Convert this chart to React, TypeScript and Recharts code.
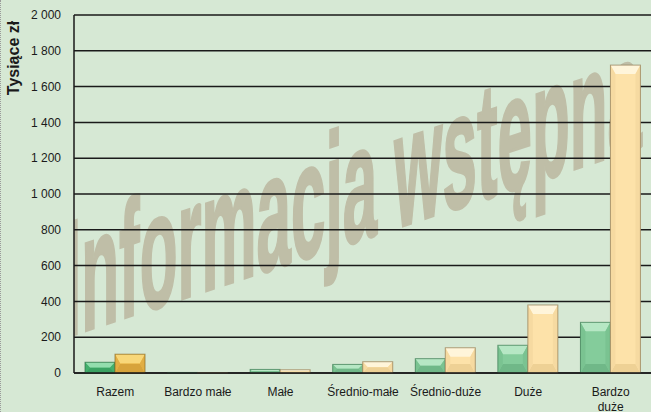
import { BarChart, Bar, XAxis, YAxis, CartesianGrid, Label } from "recharts";

const categories = ["Razem", "Bardzo małe", "Małe", "Średnio-małe", "Średnio-duże", "Duże", "Bardzo\nduże"];
const seriesA = [60, 3, 20, 48, 80, 155, 283];
const seriesB = [105, 2, 18, 63, 141, 380, 1720];
const yTicks = [0, 200, 400, 600, 800, 1000, 1200, 1400, 1600, 1800, 2000];

const data = categories.map((name, i) => ({ name, a: seriesA[i], b: seriesB[i] }));

type Pal = { mid: string; top: string; bottom: string; side: string; edge: string };
const greenPal: Pal = { mid: "#84cc9b", top: "#b6e7c4", bottom: "#70b888", side: "#7ac391", edge: "#3f7a54" };
const greenFirst: Pal = { mid: "#4cb975", top: "#93ddad", bottom: "#3aa262", side: "#43af6c", edge: "#2d6e45" };
const beigePal: Pal = { mid: "#fde2a9", top: "#fff5da", bottom: "#eed195", side: "#f6daa1", edge: "#8f7a55" };
const goldPal: Pal = { mid: "#eab84c", top: "#f8d779", bottom: "#d7a33b", side: "#e1ae44", edge: "#8a6a25" };

const fmt = (v: number) => String(v).replace(/\B(?=(\d{3})+(?!\d))/g, " ");

const makeBevel = (base: Pal, first: Pal) => (props: any) => {
  const { x, y, width: w, height: h, index } = props;
  if (!h || h <= 0) return <g />;
  const c = index === 0 ? first : base;
  const b = Math.min(9, h / 2, w / 2);
  const s = Math.min(5, h / 2, w / 2);
  const p = (pts: number[][]) => pts.map((q) => q.join(",")).join(" ");
  return (
    <g>
      <rect x={x} y={y} width={w} height={h} fill={c.mid} />
      <polygon points={p([[x, y], [x + w, y], [x + w - s, y + b], [x + s, y + b]])} fill={c.top} />
      <polygon points={p([[x, y + h], [x + w, y + h], [x + w - s, y + h - b], [x + s, y + h - b]])} fill={c.bottom} />
      <polygon points={p([[x, y], [x + s, y + b], [x + s, y + h - b], [x, y + h]])} fill={c.side} />
      <polygon points={p([[x + w, y], [x + w - s, y + b], [x + w - s, y + h - b], [x + w, y + h]])} fill={c.side} />
      <rect x={x} y={y} width={w} height={h} fill="none" stroke={c.edge} strokeWidth={1} strokeOpacity={0.7} />
    </g>
  );
};

const XTick = (props: any) => {
  const { x, y, payload } = props;
  const lines = String(payload.value).split("\n");
  return (
    <text x={x} y={y} textAnchor="middle" fontSize={12} fill="#1a1a1a" fontFamily="Arial, 'Liberation Sans', sans-serif">
      {lines.map((l, i) => (
        <tspan key={i} x={x} dy={i === 0 ? 8.5 : 15}>
          {l}
        </tspan>
      ))}
    </text>
  );
};

export default function App() {
  return (
    <div
      style={{
        position: "absolute",
        left: 0,
        top: 0,
        width: 651,
        height: 412,
        background: "#d6e8d4",
        borderLeft: "1px dotted #9a9a9a",
        boxSizing: "border-box",
        overflow: "hidden",
        fontFamily: "Arial, 'Liberation Sans', sans-serif",
      }}
    >
      <svg width={651} height={412} style={{ position: "absolute", left: -1, top: 0 }}>
        <defs>
          <clipPath id="plotClip">
            <rect x={74} y={0} width={580} height={373} />
          </clipPath>
        </defs>
        <g clipPath="url(#plotClip)">
          <g transform="translate(64,338) skewY(-18.3)">
            <text
              x={0}
              y={0}
              fontSize={165}
              fontWeight="bold"
              fill="#bfbea7"
              stroke="#bfbea7"
              strokeWidth={3}
              textLength={578}
              lengthAdjust="spacingAndGlyphs"
              fontFamily="Arial, 'Liberation Sans', sans-serif"
            >
              Informacja wstępna
            </text>
          </g>
        </g>
      </svg>
      <div style={{ position: "absolute", left: -1, top: 0 }}>
        <BarChart
          width={652}
          height={412}
          data={data}
          margin={{ top: 15, right: 0, bottom: 0, left: 0 }}
          barGap={0}
          barSize={30}
        >
          <CartesianGrid vertical={false} stroke="#1a1a1a" strokeWidth={1.5} />
          <XAxis
            dataKey="name"
            height={39}
            interval={0}
            axisLine={{ stroke: "#1a1a1a", strokeWidth: 1.5 }}
            tickLine={false}
            tickSize={0}
            tickMargin={14}
            tick={<XTick />}
          />
          <YAxis
            width={74}
            domain={[0, 2000]}
            ticks={yTicks}
            tickFormatter={fmt}
            axisLine={{ stroke: "#1a1a1a", strokeWidth: 1.5 }}
            tickLine={false}
            tickSize={0}
            tickMargin={13}
            tick={{ fontSize: 12, fill: "#1a1a1a" }}
          >
            <Label
              content={(p: any) => {
                const vb = p.viewBox || { x: 0, y: 15 };
                return (
                  <text
                    x={vb.x + 19}
                    y={58}
                    transform={`rotate(-90, ${vb.x + 19}, 58)`}
                    textAnchor="middle"
                    fontSize={16}
                    fontWeight="bold"
                    fill="#1a1a1a"
                  >
                    Tysiące zł
                  </text>
                );
              }}
            />
          </YAxis>
          <Bar dataKey="a" isAnimationActive={false} shape={makeBevel(greenPal, greenFirst)} />
          <Bar dataKey="b" isAnimationActive={false} shape={makeBevel(beigePal, goldPal)} />
        </BarChart>
      </div>
    </div>
  );
}
